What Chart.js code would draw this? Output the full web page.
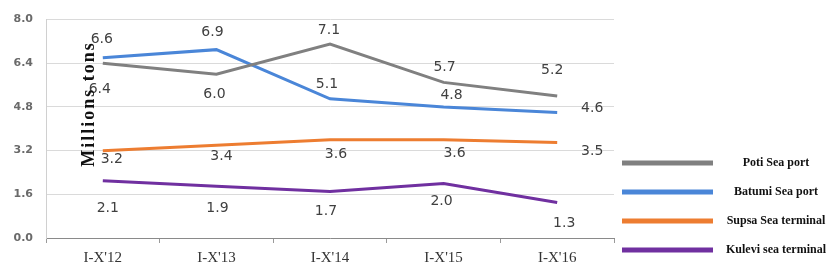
<!DOCTYPE html>
<html>
<head>
<meta charset="utf-8">
<script src="https://cdn.jsdelivr.net/npm/chart.js"></script>
<style>
  html, body { margin: 0; padding: 0; background: #fff; }
  #wrap { width: 832px; height: 278px; }
</style>
</head>
<body>
<div id="wrap"><canvas id="portChart" width="832" height="278"></canvas></div>
<script>
// DATA
const categories = ["I-X'12", "I-X'13", "I-X'14", "I-X'15", "I-X'16"];
const seriesNames = ["Poti Sea port", "Batumi Sea port", "Supsa Sea terminal", "Kulevi sea terminal"];
const potiValues = [6.4, 6.0, 7.1, 5.7, 5.2];
const batumiValues = [6.6, 6.9, 5.1, 4.8, 4.6];
const supsaValues = [3.2, 3.4, 3.6, 3.6, 3.5];
const kuleviValues = [2.1, 1.9, 1.7, 2.0, 1.3];
const yTicks = [0, 1.6, 3.2, 4.8, 6.4, 8.0];
const yTitle = "Millions tons";

const colors = ["#808080", "#4a86d8", "#ed7d31", "#7030a0"];

// where each value label sits relative to its point [dx, dy]
const labelOffsets = [
  [[-3, 26], [-2, 20], [-1, -14], [1, -15], [-5, -26]],
  [[-1, -18], [-4, -17], [-3, -14], [8, -12], [35, -4]],
  [[9, 9], [5, 11], [6, 15], [11, 14], [35, 9]],
  [[5, 28], [1, 22], [-4, 20], [-2, 18], [7, 21]]
];

// PLUGINS
const valueLabels = {
  id: "valueLabels",
  afterDatasetsDraw(chart) {
    const ctx = chart.ctx;
    ctx.save();
    ctx.font = "14px 'DejaVu Sans', Verdana, sans-serif";
    ctx.fillStyle = "#404040";
    ctx.textAlign = "center";
    ctx.textBaseline = "middle";
    chart.data.datasets.forEach((ds, i) => {
      chart.getDatasetMeta(i).data.forEach((pt, j) => {
        const off = labelOffsets[i][j];
        ctx.fillText(ds.data[j].toFixed(1), pt.x + off[0], pt.y + off[1]);
      });
    });
    ctx.restore();
  }
};

const sideLegend = {
  id: "sideLegend",
  afterDraw(chart) {
    const ctx = chart.ctx;
    ctx.save();
    chart.data.datasets.forEach((ds, i) => {
      const y = 163 + i * 29;
      ctx.strokeStyle = ds.borderColor;
      ctx.lineWidth = 5;
      ctx.beginPath();
      ctx.moveTo(622, y);
      ctx.lineTo(713, y);
      ctx.stroke();
      ctx.fillStyle = "#111";
      ctx.font = "bold 12px 'Liberation Serif', serif";
      ctx.textAlign = "center";
      ctx.textBaseline = "middle";
      ctx.fillText(ds.label, 776, y);
    });
    ctx.restore();
  }
};

const axisTitle = {
  id: "axisTitle",
  afterDatasetsDraw(chart) {
    const ctx = chart.ctx;
    ctx.save();
    ctx.translate(89, 104);
    ctx.rotate(-Math.PI / 2);
    ctx.font = "bold 18px 'Liberation Serif', serif";
    ctx.letterSpacing = "2px";
    ctx.fillStyle = "#111";
    ctx.textAlign = "center";
    ctx.textBaseline = "middle";
    ctx.fillText(yTitle, 0, 0);
    ctx.restore();
  }
};

// CHART
const seriesValues = [potiValues, batumiValues, supsaValues, kuleviValues];

new Chart(document.getElementById("portChart"), {
  type: "line",
  data: {
    labels: categories,
    datasets: seriesValues.map((vals, i) => ({
      label: seriesNames[i],
      data: vals,
      borderColor: colors[i],
      backgroundColor: colors[i],
      borderWidth: 3,
      pointRadius: 0,
      tension: 0
    }))
  },
  options: {
    responsive: false,
    animation: false,
    layout: { padding: { top: 4, right: 218, left: 0, bottom: 0 } },
    plugins: {
      legend: { display: false },
      tooltip: { enabled: false }
    },
    scales: {
      x: {
        offset: true,
        grid: { drawOnChartArea: false, drawTicks: true, tickLength: 5, color: "#9a9a9a", offset: true },
        border: { color: "#8a8a8a", width: 1 },
        ticks: {
          color: "#333",
          font: { family: "'Liberation Serif', serif", size: 15 },
          padding: 6,
          maxRotation: 0
        },
        afterFit(scale) { scale.height = 40; }
      },
      y: {
        min: 0,
        max: 8,
        afterBuildTicks(scale) { scale.ticks = yTicks.map(v => ({ value: v })); },
        grid: { color: "#dadada", drawTicks: false },
        border: { color: "#d0d0d0" },
        ticks: {
          color: "#6a6a6a",
          font: { family: "'DejaVu Sans', sans-serif", size: 11, weight: "bold" },
          padding: 13,
          callback: v => v.toFixed(1)
        },
        afterFit(scale) { scale.width = 46; }
      }
    }
  },
  plugins: [valueLabels, axisTitle, sideLegend]
});
</script>
</body>
</html>
